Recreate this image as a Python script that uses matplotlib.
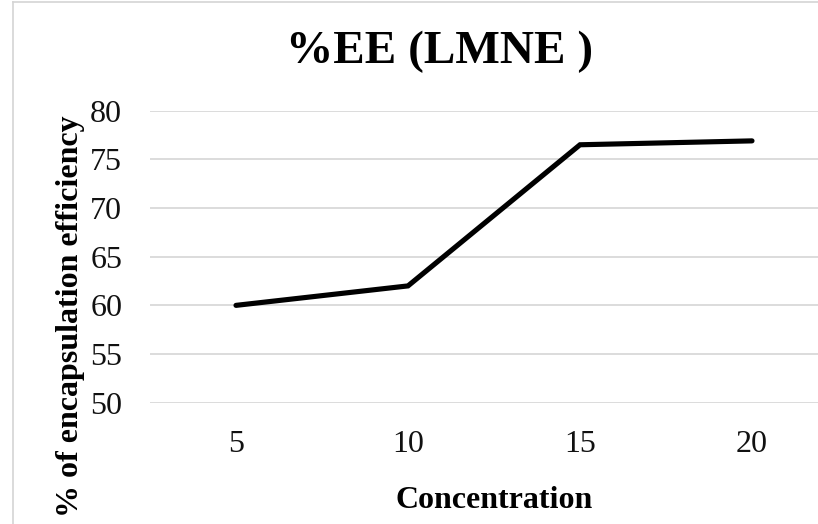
import numpy as np
import matplotlib.pyplot as plt
from matplotlib.lines import Line2D

plt.rcParams["font.family"] = ["Liberation Serif", "DejaVu Serif"]

# data
concentration = ["5", "10", "15", "20"]
ee_percent = [60.0, 62.0, 76.5, 76.9]
y_ticks = [50, 55, 60, 65, 70, 75, 80]

W, H = 818, 524
fig = plt.figure(figsize=(W / 100, H / 100), dpi=100)

# plot area in pixels (the right end runs past the cropped image edge)
left, right, top, bottom = 150, 838, 110.7, 402.7
ax = fig.add_axes([left / W, 1 - bottom / H, (right - left) / W, (bottom - top) / H])

x = np.arange(len(concentration))
ax.plot(x, ee_percent, color="black", lw=3.7, solid_capstyle="round",
        solid_joinstyle="miter", zorder=3)

ax.set_ylim(50, 80)
ax.set_yticks(y_ticks)
ax.set_xlim(-0.5, 3.5)
ax.set_xticks(x)
ax.set_xticklabels(concentration)
ax.yaxis.grid(True, color="#d9d9d9", lw=1.3)
ax.set_axisbelow(True)
for s in ax.spines.values():
    s.set_visible(False)
ax.tick_params(axis="both", length=0, labelsize=23, colors="#111111")
ax.tick_params(axis="y", pad=20)
ax.tick_params(axis="x", pad=20)

fig.text(440 / W, 1 - 63 / H, "%EE (LMNE )", fontsize=34, fontweight="bold",
         ha="center", va="baseline")
fig.text(494.5 / W, 1 - 508 / H, "Concentration", fontsize=23, fontweight="bold",
         ha="center", va="baseline")
fig.text(78 / W, 1 - 316 / H, "% of encapsulation efficiency", fontsize=23,
         fontweight="bold", rotation=90, rotation_mode="anchor",
         ha="center", va="baseline")

# chart frame edges visible in the crop
fig.add_artist(Line2D([12.5 / W, 12.5 / W], [0, 1 - 1.5 / H], color="#d4d4d4", lw=1.2))
fig.add_artist(Line2D([12.5 / W, 1], [1 - 1.5 / H, 1 - 1.5 / H], color="#d4d4d4", lw=1.2))

fig.savefig("out.png", dpi=100)
